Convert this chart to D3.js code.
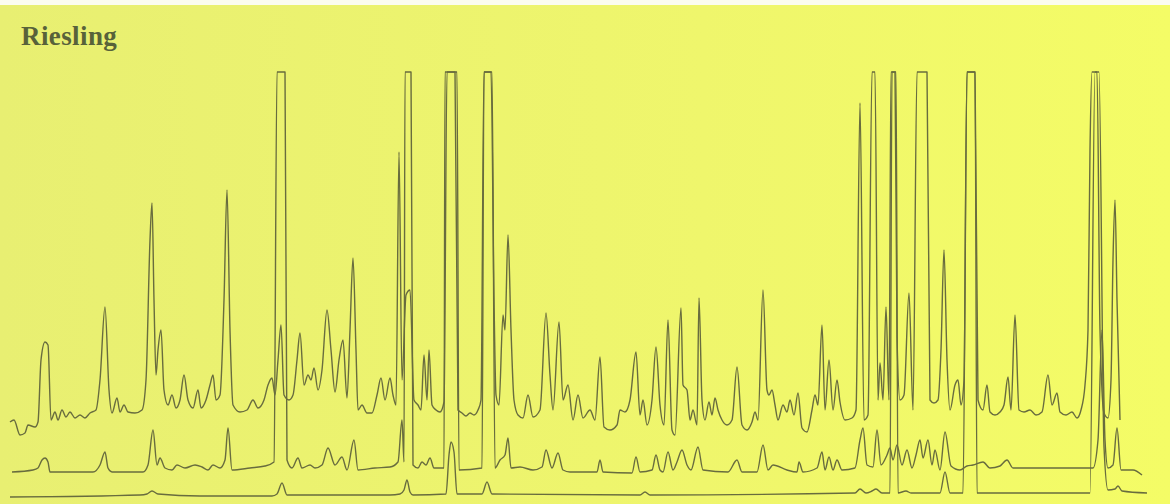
<!DOCTYPE html>
<html>
<head>
<meta charset="utf-8">
<script src="https://cdn.jsdelivr.net/npm/d3@7"></script>
<style>
  html, body { margin: 0; padding: 0; background: #fff; }
  #chart { width: 1170px; height: 504px; }
</style>
</head>
<body>
<div id="chart"></div>
<script>
// chromatogram traces: [scan, response]
const traceTop = [
  [10,78],[14,80],[20,65],[25,67],[28,75],[35,73],[38,78],[41,140],[45,158],[48,155],
  [51,80],[55,88],[58,80],[62,90],[66,83],[70,88],[75,82],[80,85],[85,82],[90,87],
  [96,90],[100,120],[105,193],[109,110],[112,87],[117,102],[120,88],[124,95],[128,88],[135,87],
  [142,90],[146,120],[150,260],[152,297],[154,200],[156,125],[158,150],[161,170],[164,110],[168,95],
  [172,105],[176,92],[180,100],[184,125],[188,100],[193,92],[198,110],[201,92],[206,100],[210,115],
  [213,125],[216,100],[220,105],[224,200],[227,310],[230,170],[233,95],[240,88],[247,90],[253,100],
  [258,92],[264,100],[268,115],[272,122],[275,105],[278,140],[281,175],[284,105],[289,100],[293,105],
  [297,140],[300,167],[304,115],[308,125],[311,120],[314,132],[318,110],[322,130],[327,190],[331,150],
  [335,108],[339,140],[343,160],[347,102],[350,170],[353,242],[356,150],[358,90],[362,95],[367,87],
  [372,87],[377,105],[381,122],[385,100],[390,122],[393,105],[396,95],[399,348],[402,120],[406,205],
  [410,210],[414,100],[418,95],[421,90],[424,145],[427,100],[429,150],[432,95],[436,90],[440,88],
  [444,98],[447,428],[455,428],[458,90],[462,87],[466,84],[470,87],[474,85],[478,90],[481,100],
  [484,428],[491,428],[494,200],[496,105],[499,95],[503,185],[505,170],[508,265],[511,170],[514,100],
  [518,85],[523,82],[528,105],[533,83],[540,90],[546,187],[550,125],[553,90],[559,178],[563,100],
  [568,115],[573,80],[578,105],[583,82],[590,90],[595,80],[600,143],[604,73],[610,70],[617,75],
  [620,90],[625,88],[630,100],[636,148],[640,85],[643,100],[647,75],[652,100],[656,153],[660,95],
  [664,75],[668,180],[672,70],[675,65],[681,192],[683,115],[687,110],[690,80],[693,90],[697,75],
  [699,202],[702,100],[705,80],[709,98],[712,85],[715,102],[718,90],[722,80],[727,75],[732,80],
  [737,133],[742,75],[747,70],[752,78],[755,88],[758,80],[763,210],[767,110],[769,105],[772,110],
  [775,95],[778,80],[783,95],[787,88],[790,100],[794,85],[798,107],[802,72],[807,68],[812,90],
  [815,105],[818,95],[822,175],[825,90],[829,140],[833,90],[837,120],[840,98],[845,80],[852,82],
  [856,90],[860,397],[864,80],[868,85],[872,428],[875,428],[878,100],[880,137],[883,100],[886,193],
  [889,100],[891,428],[895,428],[897,163],[900,100],[904,105],[909,207],[913,90],[917,428],[927,428],
  [930,100],[934,97],[938,100],[941,150],[944,250],[947,140],[950,90],[955,115],[958,120],[961,95],
  [964,120],[967,428],[975,428],[978,100],[983,90],[987,115],[990,88],[995,85],[1000,88],[1004,95],
  [1008,123],[1011,90],[1015,185],[1019,90],[1024,88],[1030,90],[1036,85],[1042,88],[1048,125],[1052,95],
  [1057,107],[1060,88],[1066,85],[1072,88],[1077,82],[1081,90],[1085,115],[1088,170],[1090,350],[1092,428],
  [1097,428],[1100,170],[1104,87],[1108,82],[1111,120],[1113,240],[1115,300],[1117,200],[1120,80]
];

const traceMid = [
  [12,28],[33,30],[38,32],[42,40],[45,42],[48,38],[50,28],[93,28],[100,35],[105,48],
  [108,32],[112,28],[143,28],[148,35],[153,70],[157,35],[160,42],[165,32],[172,30],[177,35],
  [185,32],[195,35],[202,33],[208,30],[213,35],[220,32],[225,40],[228,72],[232,30],[250,32],
  [265,34],[274,38],[277,428],[285,428],[287,40],[292,32],[298,42],[302,32],[310,35],[315,32],
  [322,35],[328,52],[335,35],[342,43],[347,30],[354,60],[358,30],[375,32],[390,33],[398,38],
  [402,80],[404,38],[405,428],[411,428],[413,35],[418,32],[422,38],[426,35],[430,42],[434,32],
  [444,32],[445,428],[457,428],[459,30],[482,32],[484,428],[492,428],[495,32],[500,40],[505,45],
  [508,62],[511,32],[520,33],[533,30],[542,33],[546,50],[552,32],[558,47],[563,30],[570,28],
  [597,28],[600,40],[603,28],[632,27],[636,43],[640,28],[652,30],[656,45],[660,30],[663,28],
  [668,48],[673,30],[677,38],[682,50],[687,35],[691,30],[698,53],[703,30],[728,28],[737,40],
  [742,28],[757,28],[763,55],[768,30],[773,35],[787,30],[797,28],[799,38],[803,28],[817,32],
  [822,48],[825,30],[829,43],[833,30],[837,40],[842,30],[855,32],[860,60],[863,72],[867,35],
  [873,33],[877,70],[881,35],[887,45],[890,52],[893,40],[897,55],[902,35],[907,50],[912,32],
  [916,45],[920,60],[923,42],[928,60],[932,35],[935,50],[940,30],[945,68],[951,34],[960,30],
  [967,34],[973,35],[983,38],[990,32],[1000,34],[1007,40],[1013,32],[1050,32],[1093,32],[1098,60],
  [1102,170],[1105,60],[1108,32],[1113,35],[1117,72],[1121,30],[1133,30],[1142,25]
];

const traceLow = [
  [10,3],[140,5],[147,6],[152,9],[158,6],[200,4],[272,4],[277,6],[282,17],[287,5],
  [390,5],[400,6],[404,10],[407,20],[410,8],[413,5],[446,6],[449,45],[451,58],[454,48],
  [457,6],[482,6],[487,18],[492,6],[640,5],[645,8],[650,5],[855,7],[860,11],[866,7],
  [872,9],[876,11],[882,7],[890,7],[892,428],[896,428],[898,7],[906,9],[911,7],[940,7],
  [945,28],[950,7],[963,7],[967,428],[975,428],[977,7],[1090,7],[1095,428],[1099,428],[1104,53],
  [1108,10],[1115,11],[1118,14],[1122,9],[1147,7]
];

const title = "Riesling";

function init() {
    const width = 1170;
    const height = 504;

    const xScale = d3.scaleLinear().domain([0, 1170]).range([0, width]);
    const yScale = d3.scaleLinear().domain([0, 428]).range([500, 72]);

    const svg = d3.select("#chart")
        .append("svg")
        .attr("width", width)
        .attr("height", height);

    // paper background, greener on the left, lemon on the right
    const grad = svg.append("defs").append("linearGradient")
        .attr("id", "paper")
        .attr("x1", "0%").attr("x2", "100%");
    grad.append("stop").attr("offset", "0%").attr("stop-color", "#e8ef72");
    grad.append("stop").attr("offset", "60%").attr("stop-color", "#eff66c");
    grad.append("stop").attr("offset", "100%").attr("stop-color", "#f4fc66");

    svg.append("rect")
        .attr("width", width)
        .attr("height", height)
        .attr("fill", "url(#paper)");

    svg.append("rect")
        .attr("width", width)
        .attr("height", 5)
        .attr("fill", "#fbfcef");

    // monotone curve keeps the pen-trace look: rounded tops, no overshoot
    const line = d3.line()
        .x(d => xScale(d[0]))
        .y(d => yScale(d[1]))
        .curve(d3.curveMonotoneX);

    [traceLow, traceMid, traceTop].forEach(tr => {
        svg.append("path")
            .datum(tr)
            .attr("fill", "none")
            .attr("stroke", "#686c3e")
            .attr("stroke-width", 1.4)
            .attr("stroke-linejoin", "round")
            .attr("d", line);
    });

    svg.append("text")
        .attr("x", 21)
        .attr("y", 45)
        .attr("font-family", "'Liberation Serif', 'DejaVu Serif', serif")
        .attr("font-weight", "bold")
        .attr("font-size", 27)
        .attr("letter-spacing", 0.4)
        .attr("fill", "#58623a")
        .text(title);
}

window.onload = init;
</script>
</body>
</html>
